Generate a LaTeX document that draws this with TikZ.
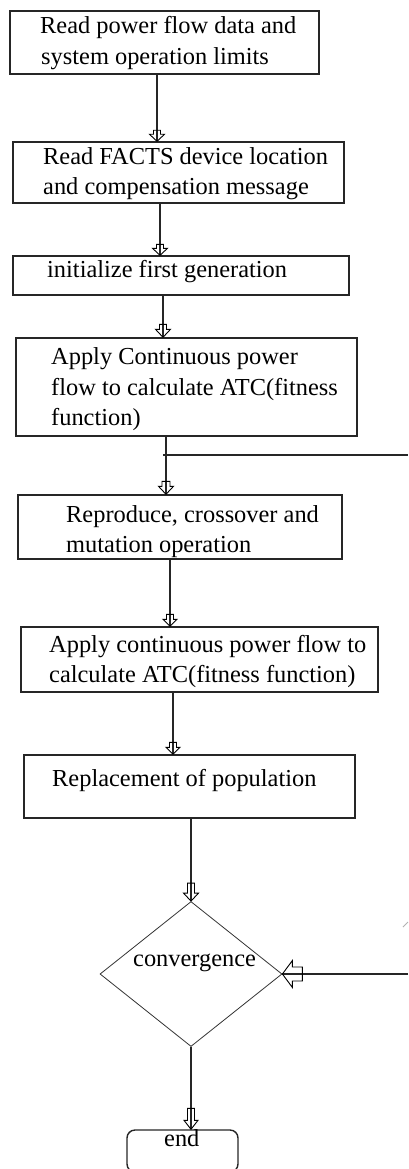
\documentclass[tikz,border=0pt]{standalone}
\usepackage{fontspec}
\setmainfont{Liberation Serif}
\usetikzlibrary{shapes.geometric,calc}
\newcommand{\blkar}[6]{% tip, rotation, shaft half, head half, shaft length, head length
  \draw[blkarrow,shift={(#1)},rotate=#2] (0,0) -- (-#4,-#6) -- (-#3,-#6) -- (-#3,-#6-#5) -- (#3,-#6-#5) -- (#3,-#6) -- (#4,-#6) -- cycle;}
\begin{document}
\begin{tikzpicture}[x=1pt,y=-1pt,
  box/.style={draw=black!85,line width=1.4pt,rectangle,inner sep=0pt},
  txt/.style={anchor=base west,inner sep=0pt,font=\fontsize{24.4}{30}\selectfont},
  conn/.style={draw=black!85,line width=1.1pt},
  blkarrow/.style={draw=black,line width=0.9pt,fill=none,line join=miter},
  dia/.style={draw=black!80,line width=0.8pt,diamond,inner sep=0pt}]
\useasboundingbox (0,0) rectangle (408,1169);
% boxes
\node[box,minimum width=309pt,minimum height=63pt] (b1) at (164.5,42.5) {};
\node[box,minimum width=331pt,minimum height=61pt] (b2) at (178.5,172.5) {};
\node[box,minimum width=336pt,minimum height=39pt] (b3) at (181,275.5) {};
\node[box,minimum width=341pt,minimum height=98pt] (b4) at (186.5,387) {};
\node[box,minimum width=324pt,minimum height=64pt] (b5) at (180,527) {};
\node[box,minimum width=357pt,minimum height=65pt] (b6) at (199.5,659.5) {};
\node[box,minimum width=331pt,minimum height=63pt] (b7) at (189.5,786.5) {};
\node[dia,minimum width=182pt,minimum height=145pt] (cv) at (191,974) {};
\node[box,rounded corners=8pt,minimum width=111pt,minimum height=42pt] (en) at (182.5,1151) {};
% texts
\node[txt] (t1a) at (40,34) {Read power flow data and};
\node[txt] (t1b) at (41,65) {system operation limits};
\node[txt] (t2a) at (43,165) {Read FACTS device location};
\node[txt] (t2b) at (43,194) {and compensation message};
\node[txt] (t3a) at (47,277) {initialize first generation};
\node[txt] (t4a) at (51,364) {Apply Continuous power};
\node[txt] (t4b) at (51,395) {flow to calculate ATC(fitness};
\node[txt] (t4c) at (51,425) {function)};
\node[txt] (t5a) at (66,522) {Reproduce, crossover and};
\node[txt] (t5b) at (66,552) {mutation operation};
\node[txt] (t6a) at (49,652) {Apply continuous power flow to};
\node[txt] (t6b) at (49,682) {calculate ATC(fitness function)};
\node[txt] (t7a) at (52,786) {Replacement of population};
\node[txt] (tcv) at (133,966) {convergence};
\node[txt] (ten) at (164,1146) {end};
% columns for connectors
\coordinate (x1) at (157,0);
\coordinate (x2) at (160,0);
\coordinate (x3) at (163,0);
\coordinate (x4) at (166,0);
\coordinate (x5) at (170,0);
\coordinate (x6) at (173,0);
\coordinate (edge) at (408,0);
\coordinate (jn) at (163,455);
% connectors
\draw[conn] (b1.south -| x1) -- (b2.north -| x1);
\blkar{b2.north -| x1}{0}{3.5}{7.5}{4}{7}
\draw[conn] (b2.south -| x2) -- (b3.north -| x2);
\blkar{b3.north -| x2}{0}{3.5}{7.5}{4}{7}
\draw[conn] (b3.south -| x3) -- (b4.north -| x3);
\blkar{b4.north -| x3}{0}{3.5}{7.5}{5}{8}
\draw[conn] (b4.south -| x4) -- (b5.north -| x4);
\blkar{b5.north -| x4}{0}{4}{7.5}{5}{8}
\draw[conn] (jn) -- (jn -| edge);
\draw[conn] (b5.south -| x5) -- (b6.north -| x5);
\blkar{b6.north -| x5}{0}{3.5}{7}{5}{7}
\draw[conn] (b6.south -| x6) -- (b7.north -| x6);
\blkar{b7.north -| x6}{0}{3.5}{7}{5}{7}
\draw[conn] (b7.south -| cv.north) -- (cv.north);
\blkar{cv.north}{0}{3.5}{7.5}{10}{8}
\draw[conn] (cv.south) -- (en.north -| cv.south);
\blkar{en.north -| cv.south}{0}{3.5}{7}{12}{9}
\draw[conn] (cv.east -| edge) -- (cv.east);
\blkar{cv.east}{-90}{7}{13.5}{10}{10}
\draw[black!30,line width=1pt] (403,927) -- (408,922);
\end{tikzpicture}
\end{document}
